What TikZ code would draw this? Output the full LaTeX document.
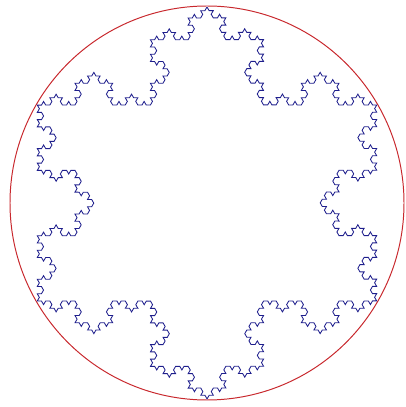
\documentclass[tikz,border=0pt]{standalone}
\usepackage{tikz}
\usetikzlibrary{calc,decorations.fractals}

\definecolor{ringred}{RGB}{200,40,45}
\definecolor{flakeblue}{RGB}{30,30,140}

\begin{document}
\begin{tikzpicture}[
            x=0.025cm, y=0.025cm,
            ring/.style={draw=ringred, line width=0.7pt},
            flake/.style={draw=flakeblue, line width=0.6pt, line join=miter,
                decoration=Koch snowflake}
        ]
            \useasboundingbox (0,0) rectangle (406,407);
            \coordinate (c) at (207,204);
            \coordinate (top) at ($(c)+(90:196)$);
            \coordinate (right) at ($(c)+(-30:196)$);
            \coordinate (left) at ($(c)+(210:196)$);
            \draw[ring] (c) circle [radius=197];
            \draw[flake] decorate{ decorate{ decorate{ decorate{
                (top) -- (right) -- (left) -- cycle }}}};
        \end{tikzpicture}
\end{document}
